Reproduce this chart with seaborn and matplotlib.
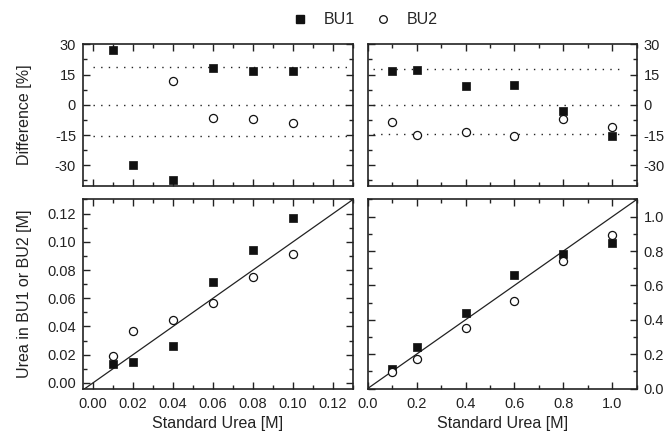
import numpy as np
import pandas as pd
import matplotlib
matplotlib.use("Agg")
import matplotlib.pyplot as plt
from matplotlib.lines import Line2D
from matplotlib.ticker import MultipleLocator, FormatStrFormatter
import seaborn as sns

# Standard urea concentrations [M]
x_low = [0.01, 0.02, 0.04, 0.06, 0.08, 0.10]
x_high = [0.1, 0.2, 0.4, 0.6, 0.8, 1.0]

# Measured urea [M]
bu1_low = [0.0131, 0.0145, 0.0259, 0.0715, 0.0939, 0.117]
bu2_low = [0.0188, 0.0368, 0.0449, 0.0566, 0.0753, 0.0917]
bu1_high = [0.116, 0.24, 0.437, 0.658, 0.781, 0.849]
bu2_high = [0.095, 0.174, 0.35, 0.51, 0.743, 0.894]

# Difference [%] (BU2 low range first two points are off scale)
diff_bu1_low = [27.2, -29.7, -37.2, 18.4, 16.9, 17.0]
diff_bu2_low = [np.nan, np.nan, 11.6, -6.5, -6.8, -8.8]
diff_bu1_high = [16.9, 17.3, 9.5, 9.9, -3.2, -15.4]
diff_bu2_high = [-8.7, -15.0, -13.3, -15.4, -7.2, -10.8]

# Limits of agreement (dotted lines)
loa_low = [18.7, 0, -15.3]
loa_low_x = [0.0, 0.13]
loa_high = [18.0, 0, -14.3]
loa_high_x = [0.02, 1.05]

# identity line
ident_low = [-0.01, 0.14]
ident_high = [-0.01, 1.2]

sns.set_theme(style="ticks")
plt.rcParams['font.family'] = ['Liberation Sans', 'DejaVu Sans']
plt.rcParams['axes.unicode_minus'] = False

fig = plt.figure(figsize=(6.66, 4.38), dpi=100)
W, H = 666, 438


def px_axes(x0, y0, x1, y1):
    return fig.add_axes([x0 / W, 1 - y1 / H, (x1 - x0) / W, (y1 - y0) / H])


ax_tl = px_axes(83, 44.3, 353, 185.5)
ax_tr = px_axes(367.7, 44.3, 636.7, 185.5)
ax_bl = px_axes(83, 199.5, 353, 388.5)
ax_br = px_axes(367.7, 199.5, 636.7, 388.5)

sq = dict(marker='s', color='#111111', s=26, edgecolor='#111111', linewidth=0.5, zorder=3)
ci = dict(marker='o', facecolor='white', s=34, edgecolor='#111111', linewidth=0.9, zorder=3)


def scatter_pair(ax, x, y1, y2):
    d = pd.DataFrame({'x': x, 'BU1': y1, 'BU2': y2})
    sns.scatterplot(data=d, x='x', y='BU1', ax=ax, legend=False, **sq)
    sns.scatterplot(data=d, x='x', y='BU2', ax=ax, legend=False, **ci)
    ax.set_xlabel('')
    ax.set_ylabel('')


# top panels: difference
for ax, x, y1, y2, loa, lx in [(ax_tl, x_low, diff_bu1_low, diff_bu2_low, loa_low, loa_low_x),
                               (ax_tr, x_high, diff_bu1_high, diff_bu2_high, loa_high, loa_high_x)]:
    for v in loa:
        ax.plot(lx, [v, v], color='#222222', lw=1.0, dashes=(1, 4.5), zorder=1)
    scatter_pair(ax, x, y1, y2)
    ax.set_ylim(-40, 30)
    ax.yaxis.set_major_locator(MultipleLocator(15))
    ax.yaxis.set_minor_locator(MultipleLocator(7.5))

# bottom panels: measured vs standard
for ax, x, y1, y2, idl in [(ax_bl, x_low, bu1_low, bu2_low, ident_low),
                           (ax_br, x_high, bu1_high, bu2_high, ident_high)]:
    ax.plot(idl, idl, color='#222222', lw=0.9, zorder=2)
    scatter_pair(ax, x, y1, y2)

for ax in (ax_tl, ax_bl):
    ax.set_xlim(-0.005, 0.13)
    ax.xaxis.set_major_locator(MultipleLocator(0.02))
    ax.xaxis.set_minor_locator(MultipleLocator(0.01))
    ax.xaxis.set_major_formatter(FormatStrFormatter('%.2f'))
for ax in (ax_tr, ax_br):
    ax.set_xlim(0, 1.1)
    ax.xaxis.set_major_locator(MultipleLocator(0.2))
    ax.xaxis.set_minor_locator(MultipleLocator(0.1))
    ax.xaxis.set_major_formatter(FormatStrFormatter('%.1f'))

ax_bl.set_ylim(-0.004, 0.13)
ax_bl.yaxis.set_major_locator(MultipleLocator(0.02))
ax_bl.yaxis.set_minor_locator(MultipleLocator(0.01))
ax_bl.yaxis.set_major_formatter(FormatStrFormatter('%.2f'))
ax_br.set_ylim(0, 1.1)
ax_br.yaxis.set_major_locator(MultipleLocator(0.2))
ax_br.yaxis.set_minor_locator(MultipleLocator(0.1))
ax_br.yaxis.set_major_formatter(FormatStrFormatter('%.1f'))

for ax in (ax_tl, ax_tr, ax_bl, ax_br):
    for s in ax.spines.values():
        s.set_visible(True)
        s.set_linewidth(1.2)
        s.set_color('#222222')
    ax.tick_params(which='both', direction='in', top=True, bottom=True, left=True, right=True,
                   colors='#222222', labelsize=10.5)
    ax.tick_params(axis='x', pad=6)
    ax.tick_params(axis='y', pad=5)
    ax.tick_params(which='major', length=5, width=1.0)
    ax.tick_params(which='minor', length=3, width=1.0)
    ax.grid(False)

for ax in (ax_tl, ax_tr):
    ax.tick_params(labelbottom=False)
for ax in (ax_tr, ax_br):
    ax.tick_params(labelleft=False, labelright=True)

ax_tl.set_ylabel('Difference [%]', fontsize=11.5, color='#222222')
ax_bl.set_ylabel('Urea in BU1 or BU2 [M]', fontsize=11.5, color='#222222')
ax_tl.yaxis.set_label_coords(-0.19, 0.5)
ax_bl.yaxis.set_label_coords(-0.19, 0.5)
ax_bl.set_xlabel('Standard Urea [M]', fontsize=11.5, color='#222222', labelpad=4)
ax_br.set_xlabel('Standard Urea [M]', fontsize=11.5, color='#222222', labelpad=4)

handles = [Line2D([], [], ls='none', marker='s', ms=5.5, mfc='#111111', mec='#111111'),
           Line2D([], [], ls='none', marker='o', ms=5.5, mfc='white', mec='#111111', mew=0.9)]
fig.legend(handles, ['BU1', 'BU2'], loc='center', bbox_to_anchor=(365 / W, 1 - 20 / H), ncol=2,
           frameon=False, fontsize=11.5, handletextpad=1.0, columnspacing=1.25, handlelength=1.0,
           borderpad=0, borderaxespad=0)

fig.savefig('out.png', dpi=100)
